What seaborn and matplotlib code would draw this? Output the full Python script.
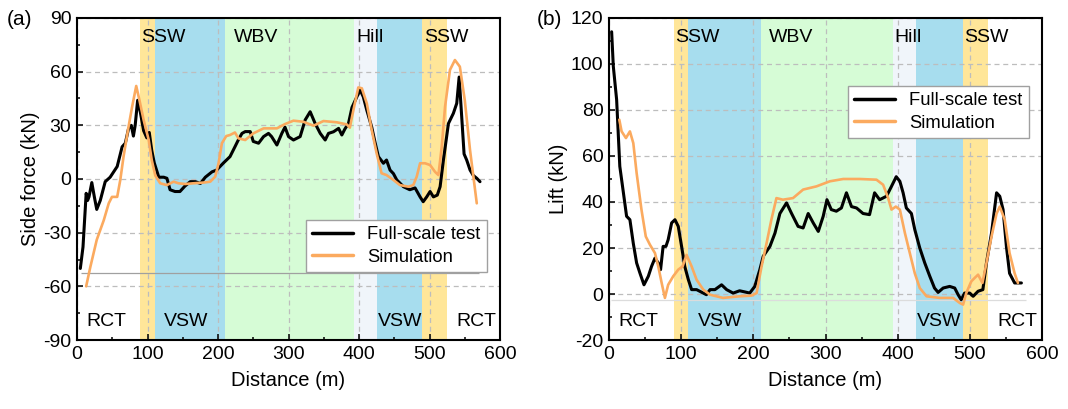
import numpy as np
import pandas as pd
import matplotlib
matplotlib.use("Agg")
import matplotlib.pyplot as plt
from matplotlib.ticker import MultipleLocator
import seaborn as sns

# ---------------- data ----------------
# (a) Side force
a_test_x = [4.7, 8.5, 13, 15, 17, 21, 24.6, 28, 33, 40, 47, 57, 64, 68.5, 73, 77, 80, 82.5, 86, 90, 94.5, 99,
            102.5, 106, 109.6, 116, 123, 127.5, 132, 139, 146, 153, 160.6, 168, 175, 182, 191.5, 198, 207.8,
            217, 224, 229, 234, 238.6, 245.7, 250, 257.5, 264.6, 271.6, 276, 283.5, 290.5, 295, 300, 307,
            316.5, 323.6, 330.7, 337.8, 345, 352, 356.7, 363.8, 371, 375.6, 380, 385, 390, 397, 401.6, 406,
            411, 418, 423, 427.5, 434.6, 439, 444, 448.8, 453.5, 463, 472, 479.5, 486.6, 491, 496, 500.8,
            505.5, 511, 515, 519.7, 526.8, 533.8, 538.6, 542, 545.6, 549, 552.7, 557.5, 562, 567, 571.6]
a_test_y = [-50, -38, -8, -12, -10, -2, -10, -17, -12, -1.5, 1, 7, 18, 20, 28, 30, 24, 30, 44, 37, 27, 23,
            26, 16, 9, 1, 1, 0.4, -6, -7, -7, -4, -1.5, -1.5, -2.5, 1, 4, 5, 9,
            12.5, 18, 22, 25.5, 26.5, 26.5, 21, 20, 23.7, 25.5, 23.7, 19, 25.5, 29, 23.7, 21.8,
            23.7, 33, 37.6, 31, 25.5, 21.8, 25.5, 26.4, 28.3, 24.6, 28, 31, 40, 46, 49.7, 46,
            38.5, 29, 20, 12.5, 8.8, 10.6, 5, 3, -0.5, -4.3, -6, -5, -10, -12.7, -10, -7,
            -10, -9, -4.3, 10.6, 31, 36.7, 42.3, 57, 35, 14, 10.6, 5, 2, 0.4, -1.5]
a_sim_x = [13, 19, 28, 38, 45, 49.6, 57, 61.4, 66, 73, 78, 84, 88.6, 94.5, 101.6, 106, 111, 118, 127.5, 137,
           144, 153.5, 165, 179.5, 189, 196, 200.8, 205.5, 211.7, 217, 224, 229, 238.6, 250, 264.6, 283.5,
           295, 307, 321, 335.4, 349.6, 368.5, 382.7, 387, 392, 399, 404, 411, 418, 425, 432, 439, 449,
           458, 470, 477, 481.8, 486.6, 493.6, 500.8, 507.8, 512.6, 517.3, 522, 529, 536, 543, 550,
           557.5, 567]
a_sim_y = [-60, -49, -34, -23, -13.6, -10, -10, -0.5, 12.5, 29, 40, 52, 44, 33, 22, 10.6, 2, -2.4, -3.4, -1.5,
           -2.4, -2.8, -2.4, -2, -1.5, 1.3, 8.8, 20, 24, 24.6, 26, 22.7, 21.8, 25.5, 28.3, 28.3,
           30.7, 32.6, 32, 29.8, 32.4, 31.7, 30.5, 28.7, 38.5, 51.2, 50.7, 42.3, 27.4, 14.3, 3.2, 2.2, -0.6,
           -3.4, -4.3, -3.4, 1.3, 8.8, 8.8, 7.8, 4, 2.2, 18, 40.4, 61, 66.5, 62.8, 44,
           16, -13.6]

# (b) Lift
b_test_x = [3.7, 6, 10.6, 15, 20, 24.4, 29, 33.7, 38.3, 43, 48.5, 54.5, 59, 63.7, 68.3, 71.5, 75, 78.9, 82,
            86.8, 91.4, 96, 100.6, 105, 110, 114.5, 121.4, 130.6, 135, 140, 146.8, 156, 163, 172, 181,
            188.3, 195, 202, 209, 213.7, 223, 230, 236.8, 246, 253, 262, 269, 276, 283, 290, 296.8, 302,
            308, 315, 322, 329, 336, 343, 352, 361, 368, 375, 384.5, 391.4, 398, 403, 407.5, 412, 419,
            423.7, 430.6, 437.5, 444.5, 451, 456, 463, 472, 479, 483.7, 488, 492.7, 499.8, 504.5, 511.4,
            518, 523, 530, 537, 541.4, 546, 550.6, 555, 562, 571.4]
b_test_y = [114, 99, 84.5, 55.5, 44, 33.8, 32.3, 22, 13.5, 9, 4, 7.7, 12, 15.6, 13.5, 10.6, 20.7, 20.7, 23.6,
            30.9, 32.3, 29.4, 20.7, 12, 6.2, 1.9, 1.9, 0.4, -0.3, 1.9, 1.9, 4, 1.9, 0.4, 1.4,
            0.9, 0.4, 3.3, 10.6, 16.4, 20.7, 26.5, 35, 39.6, 35, 29.4, 28.7, 35, 30.9, 27.2, 33.8, 41,
            36.7, 36, 37.4, 44, 38, 37.4, 35, 34.5, 44, 41, 42.5, 46.8, 51, 49, 44, 37.4, 35,
            28, 20, 13.5, 7.7, 2.6, 0.7, 2.6, 3.3, 2.6, -0.3, -2.5, 0.4, 0.4, -1, 1.2,
            1.9, 13.5, 26.5, 44, 42.5, 36.7, 20.7, 9, 4.8, 4.8]
b_sim_x = [14.3, 17.5, 23.5, 29, 33.7, 38.3, 45, 51, 56.8, 63.7, 68.3, 73, 77.5, 82, 89, 96, 102, 107.5,
           114.5, 121.4, 130.6, 140, 158, 181, 197.5, 204.5, 211.4, 218.3, 225, 232, 241, 255, 269,
           287.5, 306, 324.5, 347.5, 370.6, 379.8, 386.8, 391.4, 397.4, 403, 410, 416.8, 423.7, 430.6,
           440, 458.3, 476.8, 486, 490.6, 495, 502, 506.7, 511.4, 517.4, 523, 530, 537, 541.4, 548.3,
           555, 562, 566.6]
b_sim_y = [75.8, 70.7, 67.8, 70.7, 65.6, 52.6, 36.7, 25, 21.4, 17.8, 12, 4.8, -1.7, 4, 7.7, 10.6, 12, 17,
           12, 6.2, 1.9, -0.3, -1.7, -1, -0.7, 0.4, 12, 22, 32.3, 41.7, 41, 41.7, 45.4,
           46.8, 49, 50, 50, 49.7, 47.5, 41.7, 36.7, 38, 36.7, 26.5, 17.8, 9, 2.6,
           -1, -1.7, -1.7, -3.9, -4.6, 0.4, 5.5, 7, 8.4, 4.8, 13.5, 25, 35, 38, 32.3,
           17.8, 9, 4.8]

# flow regions along the route
region_edges = [0, 90, 110, 210, 393, 425, 490, 525, 600]
region_kinds = ["RCT", "SSW", "VSW", "WBV", "Hill", "VSW", "SSW", "RCT"]
top_labels = ["SSW", "WBV", "Hill", "SSW"]
top_label_x = [91, 222, 396, 492]
bottom_labels = ["RCT", "VSW", "VSW", "RCT"]
bottom_label_x = [13, 123, 426.5, 537.5]

# faint baseline artefacts
a_base = (-52.5, 5, 570)
b_base = (-2.5, 3, 578)

series_names = ["Full-scale test", "Simulation"]

# ---------------- style ----------------
sns.set_theme(style="ticks")
plt.rcParams["font.family"] = ["Liberation Sans", "DejaVu Sans"]
plt.rcParams["axes.unicode_minus"] = False
for key in ["text.color", "axes.labelcolor", "xtick.color", "ytick.color", "axes.edgecolor"]:
    plt.rcParams[key] = "black"

band_colors = {"RCT": "#FFFFFF", "SSW": "#FFE699", "VSW": "#A7DDEE", "WBV": "#D6FCD6", "Hill": "#F0F5FA"}
line_colors = {"Full-scale test": "#000000", "Simulation": "#FBAA5F"}

fig = plt.figure(figsize=(10.68, 4.09), dpi=100)
ax_a = fig.add_axes([0.0721, 0.1687, 0.3961, 0.7873])
ax_b = fig.add_axes([0.5702, 0.1687, 0.4055, 0.7873])


def build_df(tx, ty, sx, sy):
    return pd.concat([
        pd.DataFrame({"Distance": tx, "Value": ty, "Series": series_names[0]}),
        pd.DataFrame({"Distance": sx, "Value": sy, "Series": series_names[1]}),
    ], ignore_index=True)


def draw(ax, df, ylim, ymaj, ymin, ylabel, base, base_color, legend_anchor):
    for k, kind in enumerate(region_kinds):
        ax.axvspan(region_edges[k], region_edges[k + 1], color=band_colors[kind], lw=0, zorder=0.2)
    ax.hlines(base[0], base[1], base[2], color=base_color, lw=0.9, zorder=1)
    sns.lineplot(data=df[df.Series == series_names[0]], x="Distance", y="Value", ax=ax,
                 color=line_colors[series_names[0]], lw=2.2, estimator=None, sort=False,
                 label=series_names[0], zorder=3)
    sns.lineplot(data=df[df.Series == series_names[1]], x="Distance", y="Value", ax=ax,
                 color=line_colors[series_names[1]], lw=1.9, estimator=None, sort=False,
                 label=series_names[1], zorder=4)
    ax.set_xlim(0, 600)
    ax.set_ylim(*ylim)
    ax.xaxis.set_major_locator(MultipleLocator(100))
    ax.xaxis.set_minor_locator(MultipleLocator(50))
    ax.yaxis.set_major_locator(MultipleLocator(ymaj))
    ax.yaxis.set_minor_locator(MultipleLocator(ymin))
    ax.grid(True, which="major", color="#BDBDBD", ls=(0, (4, 3)), lw=0.9)
    ax.set_axisbelow(True)
    ax.tick_params(which="both", direction="in", labelsize=14, color="black", labelcolor="black",
                   width=1.1, pad=4)
    ax.tick_params(which="major", length=4.5)
    ax.tick_params(which="minor", length=2.5)
    for s in ax.spines.values():
        s.set_linewidth(1.5)
        s.set_color("black")
        s.set_zorder(6)
    ax.set_xlabel("Distance (m)", fontsize=14.5, labelpad=6)
    ax.set_ylabel(ylabel, fontsize=14.5, labelpad=2)
    for lab, x in zip(top_labels, top_label_x):
        ax.text(x, 0.938, lab, transform=ax.get_xaxis_transform(), ha="left", va="center",
                fontsize=14, zorder=7)
    for lab, x in zip(bottom_labels, bottom_label_x):
        ax.text(x, 0.059, lab, transform=ax.get_xaxis_transform(), ha="left", va="center",
                fontsize=14, zorder=7)
    leg = ax.legend(loc="upper left", bbox_to_anchor=legend_anchor, fontsize=13.2, frameon=True,
                    fancybox=False, framealpha=1, edgecolor="#A0A0A0", handlelength=2.2,
                    handletextpad=0.8, borderpad=0.35, labelspacing=0.3, borderaxespad=0)
    leg.get_frame().set_linewidth(1.0)
    leg.set_zorder(8)
    for h in leg.get_lines():
        h.set_linewidth(2.5)


draw(ax_a, build_df(a_test_x, a_test_y, a_sim_x, a_sim_y), (-90, 90), 30, 15,
     "Side force (kN)", a_base, "#A0A0A0", (0.5412, 0.373))
draw(ax_b, build_df(b_test_x, b_test_y, b_sim_x, b_sim_y), (-20, 120), 20, 10,
     "Lift (kN)", b_base, "#DCDCDC", (0.552, 0.789))

fig.text(0.006, 0.953, "(a)", fontsize=15, ha="left", va="center")
fig.text(0.503, 0.953, "(b)", fontsize=15, ha="left", va="center")

fig.savefig("out.png", dpi=100)
